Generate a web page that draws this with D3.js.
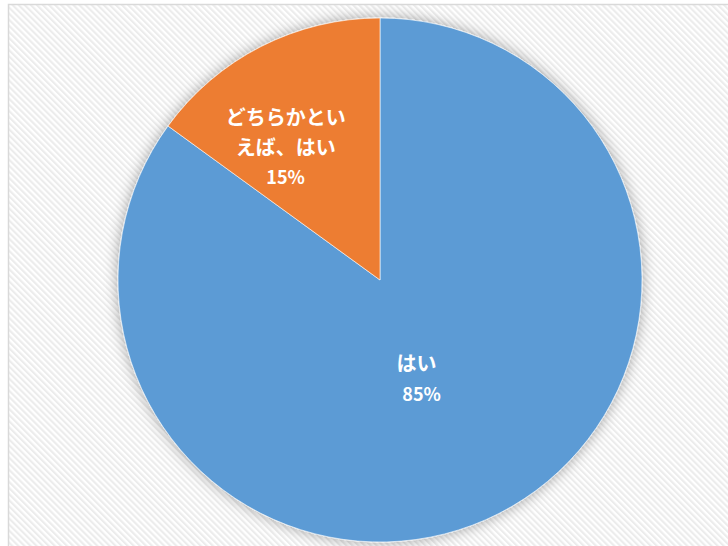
<!DOCTYPE html>
<html>
<head>
<meta charset="utf-8">
<script src="https://cdn.jsdelivr.net/npm/d3@7"></script>
<style>
  html, body { margin: 0; padding: 0; background: #fff; }
  #chart { width: 728px; height: 546px; overflow: hidden; }
</style>
</head>
<body>
<div id="chart"></div>
<script>
    // region Data
    const categories = ['はい', 'どちらかといえば、はい'];
    const labelLines = [['はい'], ['どちらかとい', 'えば、はい']];
    const values = [85, 15];
    const percentLabels = ['85%', '15%'];
    const colors = ['#5b9bd5', '#ed7d31'];
    // endregion

    let w = 728,
        h = 546,
        cx = 380,
        cy = 280,
        r = 262;

    let svg = d3.select('#chart')
        .append('svg')
        .attr('width', w)
        .attr('height', h);

    let defs = svg.append('defs');

    // diagonal stripes of the plot background
    let pat = defs.append('pattern')
        .attr('id', 'stripes')
        .attr('patternUnits', 'userSpaceOnUse')
        .attr('width', 4.3)
        .attr('height', 4.3)
        .attr('patternTransform', 'rotate(-45)');
    pat.append('rect')
        .attr('width', 4.3).attr('height', 4.3)
        .attr('fill', '#ffffff');
    pat.append('rect')
        .attr('width', 2.1).attr('height', 4.3)
        .attr('fill', '#ececec');

    let shadow = defs.append('filter')
        .attr('id', 'shadow')
        .attr('x', '-20%').attr('y', '-20%')
        .attr('width', '140%').attr('height', '140%');
    shadow.append('feGaussianBlur')
        .attr('in', 'SourceAlpha')
        .attr('stdDeviation', 7)
        .attr('result', 'blur');
    shadow.append('feFlood')
        .attr('flood-color', '#000')
        .attr('flood-opacity', 0.35);
    shadow.append('feComposite')
        .attr('in2', 'blur')
        .attr('operator', 'in')
        .attr('result', 'sh');
    let merge = shadow.append('feMerge');
    merge.append('feMergeNode').attr('in', 'sh');
    merge.append('feMergeNode').attr('in', 'SourceGraphic');

    // chart area with border
    svg.append('rect')
        .attr('x', 8.5)
        .attr('y', 4.5)
        .attr('width', 740)
        .attr('height', 560)
        .attr('fill', 'url(#stripes)')
        .attr('stroke', '#d9d9d9')
        .attr('stroke-width', 1.5);

    const pie = d3.pie()
        .sort(null)
        .value(d => d)
        .startAngle(0)
        .endAngle(2 * Math.PI);

    const arcs = pie(values);

    const arc = d3.arc()
        .innerRadius(0)
        .outerRadius(r);

    let g = svg.append('g')
        .attr('transform', `translate(${cx},${cy})`);

    g.append('g')
        .attr('filter', 'url(#shadow)')
        .selectAll('path')
        .data(arcs).enter()
        .append('path')
        .attr('d', arc)
        .attr('fill', (d, i) => colors[i])
        .attr('stroke', '#ffffff')
        .attr('stroke-width', 0.6);

    // label placement: fraction of radius along the slice middle, plus nudge
    const labelRadius = [0.4, 0.6];
    const labelNudge = [[-11, 6], [-23, 8]];

    arcs.forEach(function (d, i) {
        let la = d3.arc().innerRadius(r * labelRadius[i]).outerRadius(r * labelRadius[i]);
        let [lx, ly] = la.centroid(d);
        lx += labelNudge[i][0];
        ly += labelNudge[i][1];
        let lines = labelLines[i];
        let lineH = 30;
        let total = lines.length + 1;
        let top = ly - (total - 1) * lineH / 2;
        let t = g.append('text')
            .attr('text-anchor', 'middle')
            .attr('fill', '#ffffff')
            .attr('font-family', '"Noto Sans CJK JP", "Noto Sans", sans-serif')
            .attr('font-weight', 'bold');
        lines.forEach(function (s, k) {
            t.append('tspan')
                .attr('x', lx)
                .attr('y', top + k * lineH)
                .attr('dy', '0.35em')
                .attr('font-size', 20)
                .text(s);
        });
        t.append('tspan')
            .attr('x', lx + (i === 0 ? 5 : 0))
            .attr('y', top + lines.length * lineH)
            .attr('dy', '0.35em')
            .attr('font-size', 18)
            .text(percentLabels[i]);
    });
</script>
</body>
</html>
